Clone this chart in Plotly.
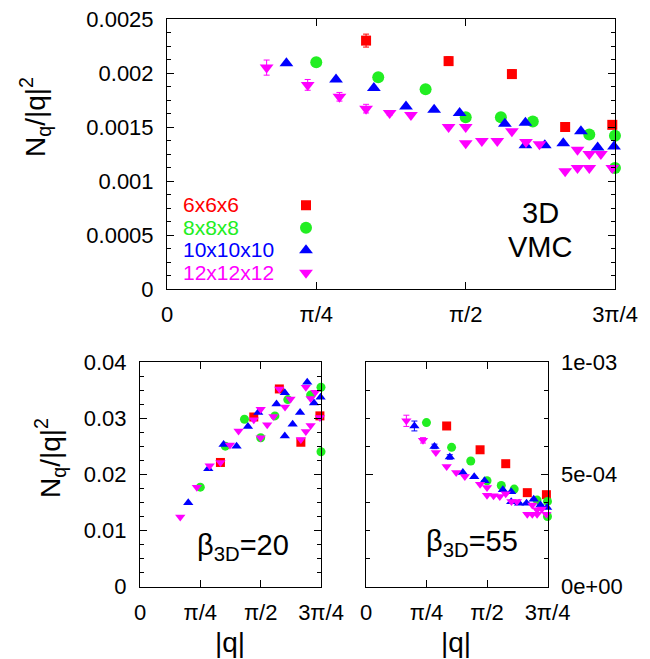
import numpy as np
import plotly.graph_objects as go

W, H = 650, 659
PI = np.pi

# ---------------- data ----------------
series_names = ["6x6x6", "8x8x8", "10x10x10", "12x12x12"]
series_colors = ["#ff0000", "#22ee22", "#0000ff", "#ff00ff"]
series_symbols = ["square", "circle", "triangle-up", "triangle-down"]

q6 = [1.047, 1.481, 1.814, 2.094, 2.342]
q8 = [0.785, 1.111, 1.360, 1.571, 1.756, 1.924, 2.221, 2.356, 2.356]
q10 = [0.628, 0.889, 1.088, 1.257, 1.405, 1.539, 1.777, 1.885, 1.885, 1.987,
       2.084, 2.177, 2.265, 2.351]
q12 = [0.524, 0.740, 0.907, 1.047, 1.171, 1.283, 1.481, 1.571, 1.571, 1.656,
       1.737, 1.814, 1.888, 1.959, 2.094, 2.159, 2.159, 2.221, 2.221, 2.282, 2.342]

# top panel: 3D VMC
v6_vmc = [0.00230, 0.00211, 0.00199, 0.00150, 0.00152]
e6_vmc = [0.00006, 0.00004, 0.00004, 0.00001, 0.00001]
v8_vmc = [0.00210, 0.00196, 0.00185, 0.00159, 0.00159, 0.00155, 0.00143, 0.00142, 0.00112]
v10_vmc = [0.00209, 0.00194, 0.00186, 0.00169, 0.00166, 0.00163, 0.00153, 0.00154,
           0.00133, 0.00133, 0.00135, 0.00146, 0.00131, 0.00132]
v12_vmc = [0.00205, 0.00189, 0.00178, 0.00167, 0.00163, 0.00161, 0.00150, 0.00150,
           0.00135, 0.00137, 0.00137, 0.00146, 0.00136, 0.00134, 0.00109, 0.00129,
           0.00112, 0.00125, 0.00112, 0.00125, 0.00112]
e12_vmc = [0.00007, 0.00005, 0.00004, 0.00004, 0.00002, 0.00001, 0.00001, 0, 0, 0,
           0, 0, 0, 0, 0, 0, 0, 0, 0, 0, 0]

# bottom-left: beta_3D = 20
v6_b20 = [0.0221, 0.0302, 0.0352, 0.0257, 0.0304]
v8_b20 = [0.0177, 0.0250, 0.0298, 0.0265, 0.0304, 0.0333, 0.0341, 0.0355, 0.0240]
v10_b20 = [0.0149, 0.0210, 0.0253, 0.0250, 0.0285, 0.0310, 0.0325, 0.0345, 0.0268,
           0.0289, 0.0310, 0.0364, 0.0327, 0.0337]
v12_b20 = [0.0124, 0.0177, 0.0215, 0.0221, 0.0252, 0.0277, 0.0297, 0.0316, 0.0265,
           0.0288, 0.0303, 0.0352, 0.0320, 0.0334, 0.0262, 0.0276, 0.0355, 0.0287,
           0.0335, 0.0346, 0.0301]

# bottom-right: beta_3D = 55
v6_b55 = [7.15e-4, 6.09e-4, 5.47e-4, 4.18e-4, 4.09e-4]
v8_b55 = [7.30e-4, 6.20e-4, 5.59e-4, 4.71e-4, 4.50e-4, 4.34e-4, 3.85e-4, 3.79e-4, 3.12e-4]
v10_b55 = [7.15e-4, 6.24e-4, 5.77e-4, 5.08e-4, 4.89e-4, 4.71e-4, 4.31e-4, 4.22e-4,
           3.77e-4, 3.71e-4, 3.71e-4, 3.89e-4, 3.63e-4, 3.52e-4]
e10_b55 = [2.2e-5, 1.0e-5, 1.0e-5, 0, 0, 0, 0, 0, 0, 0, 0, 0, 0, 0]
v12_b55 = [7.38e-4, 6.51e-4, 5.97e-4, 5.35e-4, 5.08e-4, 4.90e-4, 4.55e-4, 4.41e-4,
           4.07e-4, 4.04e-4, 4.01e-4, 4.13e-4, 3.79e-4, 3.79e-4, 3.22e-4, 3.63e-4,
           3.22e-4, 3.42e-4, 3.22e-4, 3.45e-4, 3.22e-4]
e12_b55 = [2.5e-5, 1.2e-5, 0, 0, 0, 0, 0, 0, 0, 0, 0, 0, 0, 0, 0, 0, 0, 0, 0, 0, 0]

x_tickvals = [0, PI / 4, PI / 2, 3 * PI / 4]
x_ticktext = ["0", "π/4", "π/2", "3π/4"]

FONT = "Liberation Sans, Arial, Helvetica, sans-serif"

# ---------------- figure ----------------
fig = go.Figure()

panels = [
    ("x", "y", [q6, q8, q10, q12], [v6_vmc, v8_vmc, v10_vmc, v12_vmc],
     [e6_vmc, None, None, e12_vmc], [10, 12, 12, 12], True),
    ("x2", "y2", [q6, q8, q10, q12], [v6_b20, v8_b20, v10_b20, v12_b20],
     [None, None, None, None], [9, 9, 9, 9], False),
    ("x3", "y3", [q6, q8, q10, q12], [v6_b55, v8_b55, v10_b55, v12_b55],
     [None, None, e10_b55, e12_b55], [9, 9, 9, 9], False),
]

for xa, ya, qs, vs, es, sizes, show in panels:
    for i in range(4):
        err = None
        if es[i] is not None:
            err = dict(type="data", array=es[i], visible=True,
                       color=series_colors[i], thickness=1, width=3)
        fig.add_trace(go.Scatter(
            x=qs[i], y=vs[i], mode="markers", xaxis=xa, yaxis=ya,
            name=" ", legendgroup=series_names[i], showlegend=show,
            marker=dict(symbol=series_symbols[i], color=series_colors[i],
                        size=sizes[i], line=dict(width=0)),
            error_y=err, cliponaxis=False,
        ))


def xd(a, b):
    return [a / W, b / W]


def yd(top, bottom):
    return [1 - bottom / H, 1 - top / H]


common = dict(showline=True, linecolor="black", linewidth=1, mirror="allticks",
              ticks="inside", ticklen=7, tickcolor="black", tickwidth=1,
              showgrid=False, zeroline=False, automargin=False,
              tickfont=dict(family=FONT, size=22, color="black"))

xcommon = dict(common, range=[0, 3 * PI / 4], tickmode="array",
               tickvals=x_tickvals, ticktext=x_ticktext, ticklabelstandoff=6)

fig.update_layout(
    width=W, height=H, autosize=False,
    margin=dict(l=0, r=0, t=0, b=0, pad=0, autoexpand=False),
    paper_bgcolor="white", plot_bgcolor="white",
    font=dict(family=FONT, color="black"),
    xaxis=dict(xcommon, domain=xd(167, 615), anchor="y"),
    yaxis=dict(common, domain=yd(19, 289), anchor="x", range=[0, 0.0025],
               tickmode="array", tickvals=[0, 0.0005, 0.001, 0.0015, 0.002, 0.0025],
               ticktext=["0", "0.0005", "0.001", "0.0015", "0.002", "0.0025"],
               ticklabelstandoff=8,
               minor=dict(ticks="inside", ticklen=4, tickcolor="black",
                          tickmode="linear", tick0=0, dtick=0.000125, showgrid=False)),
    xaxis2=dict(xcommon, domain=xd(140, 321), anchor="y2"),
    yaxis2=dict(common, domain=yd(362, 586.5), anchor="x2", range=[0, 0.04],
                tickmode="array", tickvals=[0, 0.01, 0.02, 0.03, 0.04],
                ticktext=["0", "0.01", "0.02", "0.03", "0.04"],
                ticklabelstandoff=8,
                minor=dict(ticks="inside", ticklen=4, tickcolor="black",
                           tickmode="linear", tick0=0, dtick=0.0025, showgrid=False)),
    xaxis3=dict(xcommon, domain=xd(366, 547.5), anchor="y3"),
    yaxis3=dict(common, domain=yd(362, 586.5), anchor="x3", range=[0, 0.001],
                side="right",
                tickmode="array", tickvals=[0, 0.0005, 0.001],
                ticktext=["0e+00", "5e-04", "1e-03"],
                ticklabelstandoff=8,
                minor=dict(ticks="inside", ticklen=4, tickcolor="black",
                           tickmode="linear", tick0=0, dtick=0.000125, showgrid=False)),
    showlegend=True,
    legend=dict(x=286 / W, y=1 - 189 / H, xref="paper", yref="paper",
                xanchor="left", yanchor="top", bgcolor="rgba(0,0,0,0)",
                font=dict(size=15, family=FONT), tracegroupgap=0,
                itemclick=False, itemdoubleclick=False),
)

ann = []
# legend labels (text left of the legend symbols, gnuplot style)
label_y = [204, 227, 249, 272]
for i in range(4):
    ann.append(dict(x=181 / W, y=1 - label_y[i] / H,
                    text=series_names[i], xanchor="left", yanchor="middle",
                    font=dict(size=21, color=series_colors[i], family=FONT)))

ann += [
    dict(x=540 / W, y=1 - 213 / H, text="3D",
         font=dict(size=29, family=FONT), xanchor="center", yanchor="middle"),
    dict(x=540 / W, y=1 - 247 / H, text="VMC",
         font=dict(size=29, family=FONT), xanchor="center", yanchor="middle"),
    dict(x=243 / W, y=1 - 547 / H, text="β<sub>3D</sub>=20",
         font=dict(size=29, family=FONT), xanchor="center", yanchor="middle"),
    dict(x=472 / W, y=1 - 543 / H, text="β<sub>3D</sub>=55",
         font=dict(size=29, family=FONT), xanchor="center", yanchor="middle"),
    dict(x=35 / W, y=1 - 117 / H, text="N<sub>q</sub>/|q|<sup>2</sup>",
         textangle=-90, font=dict(size=28, family=FONT), xanchor="center", yanchor="middle"),
    dict(x=50 / W, y=1 - 458 / H, text="N<sub>q</sub>/|q|<sup>2</sup>",
         textangle=-90, font=dict(size=28, family=FONT), xanchor="center", yanchor="middle"),
    dict(x=230 / W, y=1 - 642 / H, text="|q|",
         font=dict(size=28, family=FONT), xanchor="center", yanchor="middle"),
    dict(x=456 / W, y=1 - 642 / H, text="|q|",
         font=dict(size=28, family=FONT), xanchor="center", yanchor="middle"),
]
for a in ann:
    a.update(xref="paper", yref="paper", showarrow=False)
fig.update_layout(annotations=ann)

fig.write_html(
    "out.html",
    config={"displayModeBar": False},
    post_script="document.body.style.margin='0';document.body.style.padding='0';"
                "document.body.style.overflow='hidden';",
)
